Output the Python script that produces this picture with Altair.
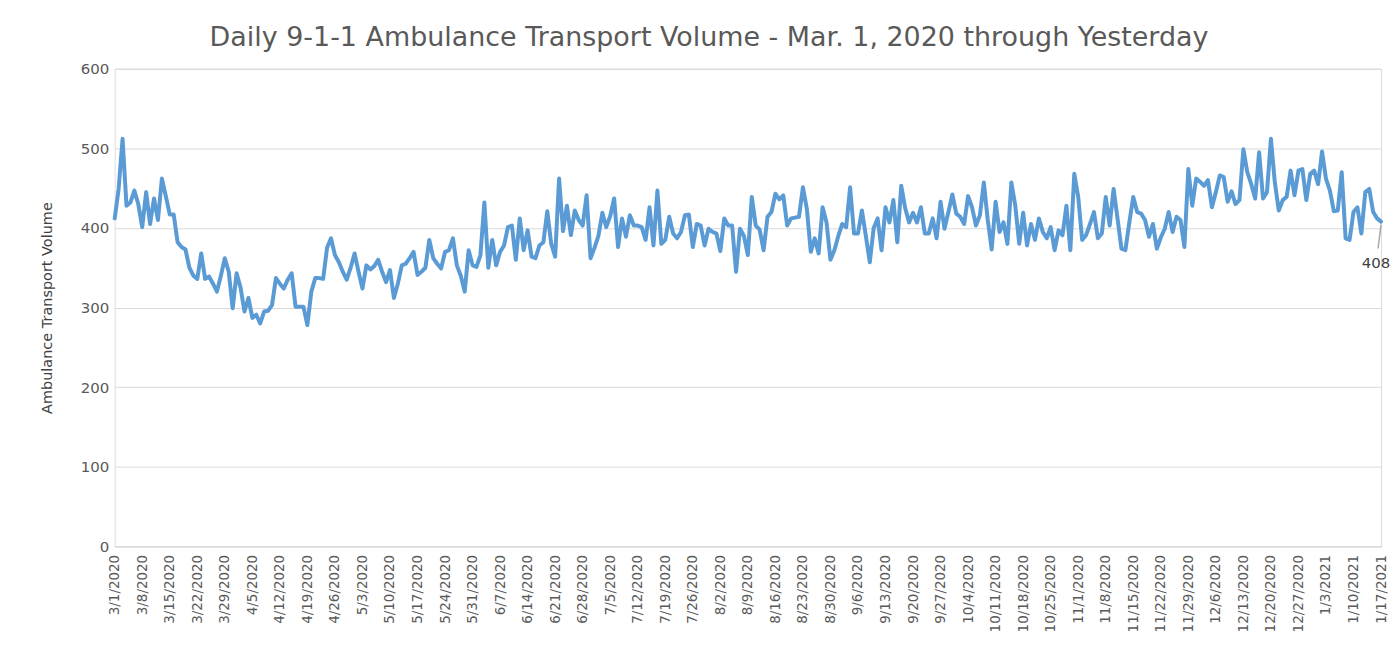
import altair as alt
import pandas as pd

# Daily 9-1-1 ambulance transports (3/1/2020 .. 1/17/2021)
mar_2020 = [412, 449, 512, 428, 432, 447, 430, 401, 445, 405, 437, 410, 462, 440, 417, 417,
            382, 376, 373, 350, 340, 336, 368, 336, 339, 330, 320, 340, 362, 345, 299]
apr_2020 = [343, 325, 295, 312, 287, 291, 280, 295, 296, 303, 337, 330, 324, 335, 343, 301,
            301, 301, 278, 320, 337, 337, 336, 375, 387, 366, 357, 345, 335, 350]
may_2020 = [368, 345, 324, 353, 348, 352, 360, 345, 332, 347, 312, 330, 353, 355, 362, 370,
            341, 345, 350, 385, 362, 355, 349, 370, 372, 387, 353, 340, 320, 372, 353]
jun_2020 = [351, 366, 432, 350, 385, 353, 370, 378, 401, 403, 360, 412, 372, 397, 364, 362,
            378, 382, 421, 380, 364, 462, 396, 428, 391, 422, 410, 403, 441, 362]
jul_2020 = [375, 390, 419, 401, 415, 437, 376, 412, 389, 416, 403, 403, 401, 385, 426, 378,
            447, 380, 385, 414, 393, 387, 395, 416, 417, 376, 405, 403, 378, 399, 395]
aug_2020 = [393, 371, 412, 403, 403, 345, 399, 390, 366, 439, 403, 398, 372, 414, 420, 443,
            436, 441, 403, 412, 413, 414, 451, 424, 370, 387, 368, 426, 407, 360, 372]
sep_2020 = [390, 405, 401, 451, 393, 393, 422, 390, 357, 400, 412, 372, 426, 407, 435, 382,
            453, 425, 407, 419, 407, 426, 393, 393, 412, 387, 433, 399, 420, 442]
oct_2020 = [418, 414, 405, 440, 426, 403, 416, 457, 410, 373, 433, 395, 407, 380, 457, 428,
            380, 419, 378, 405, 385, 412, 395, 387, 401, 372, 397, 391, 428, 372, 468]
nov_2020 = [439, 385, 391, 405, 420, 387, 393, 439, 403, 449, 412, 374, 372, 407, 439, 420,
            418, 410, 389, 405, 374, 388, 399, 420, 395, 414, 410, 376, 474, 428]
dec_2020 = [462, 458, 453, 460, 426, 445, 466, 464, 433, 446, 430, 435, 499, 470, 455, 437,
            495, 437, 445, 512, 457, 422, 435, 439, 472, 441, 472, 474, 435, 468, 472]
jan_2021 = [455, 496, 462, 447, 421, 422, 470, 387, 385, 420, 426, 393, 445, 449, 420, 412, 408]

tick_labels = ["3/1/2020", "3/8/2020", "3/15/2020", "3/22/2020", "3/29/2020", "4/5/2020",
               "4/12/2020", "4/19/2020", "4/26/2020", "5/3/2020", "5/10/2020", "5/17/2020",
               "5/24/2020", "5/31/2020", "6/7/2020", "6/14/2020", "6/21/2020", "6/28/2020",
               "7/5/2020", "7/12/2020", "7/19/2020", "7/26/2020", "8/2/2020", "8/9/2020",
               "8/16/2020", "8/23/2020", "8/30/2020", "9/6/2020", "9/13/2020", "9/20/2020",
               "9/27/2020", "10/4/2020", "10/11/2020", "10/18/2020", "10/25/2020", "11/1/2020",
               "11/8/2020", "11/15/2020", "11/22/2020", "11/29/2020", "12/6/2020", "12/13/2020",
               "12/20/2020", "12/27/2020", "1/3/2021", "1/10/2021", "1/17/2021"]
y_ticks = [0, 100, 200, 300, 400, 500, 600]

values = (mar_2020 + apr_2020 + may_2020 + jun_2020 + jul_2020 + aug_2020 + sep_2020
          + oct_2020 + nov_2020 + dec_2020 + jan_2021)
df = pd.DataFrame({"day": list(range(len(values))), "volume": values})
last = df.tail(1).copy()
last["label"] = last["volume"].astype(str)

label_array = "[" + ",".join("'%s'" % s for s in tick_labels) + "]"
label_expr = label_array + "[round(datum.value / 7)]"

FONT = "DejaVu Sans"
GREY = "#595959"

x_enc = alt.X("day:Q",
              scale=alt.Scale(domain=[0, len(values) - 1], nice=False, zero=False),
              axis=alt.Axis(values=[i * 7 for i in range(len(tick_labels))],
                            tickCount=100,
                            labelExpr=label_expr, labelAngle=270, labelAlign="right",
                            labelBaseline="middle", labelFontSize=13.5,
                            labelFont=FONT, labelColor=GREY, labelPadding=8,
                            labelOverlap=False, labelSeparation=0, labelBound=False,
                            labelFlush=False, ticks=False, tickSize=0, grid=False,
                            domain=True, domainColor="#D9D9D9", domainWidth=1, title=None))
y_enc = alt.Y("volume:Q",
              scale=alt.Scale(domain=[0, 600], nice=False),
              axis=alt.Axis(values=y_ticks, labelFontSize=15, labelFont=FONT,
                            labelColor=GREY, labelPadding=6, ticks=False, tickSize=0,
                            domain=False, grid=True, gridColor="#D9D9D9", gridWidth=1,
                            title="Ambulance Transport Volume", titleFont=FONT,
                            titleFontSize=14.5, titleFontWeight="normal",
                            titleColor="#404040", titlePadding=26))

line = alt.Chart(df).mark_line(color="#5B9BD5", strokeWidth=4, strokeJoin="round",
                               strokeCap="round").encode(x=x_enc, y=y_enc)

leader = alt.Chart(last).mark_rule(color="#A6A6A6", strokeWidth=1.5, yOffset=3,
                                   y2Offset=27, x2Offset=-3).encode(
    x="day:Q", x2="day:Q", y="volume:Q", y2="volume:Q")

text = alt.Chart(last).mark_text(font=FONT, fontSize=15, color="#404040", dx=-5,
                                 dy=42).encode(x="day:Q", y="volume:Q", text="label:N")

chart = alt.layer(line, leader, text).properties(
    width=1270, height=479,
    title=alt.TitleParams("Daily 9-1-1 Ambulance Transport Volume - Mar. 1, 2020 through Yesterday",
                          font=FONT, fontSize=27, fontWeight="normal", color=GREY,
                          anchor="middle", dx=-39, offset=10),
    autosize=alt.AutoSizeParams(type="none"),
    padding={"left": 107, "top": 60, "right": 10, "bottom": 95},
).configure_view(stroke=None).configure(background="white").configure_axisX(
    labelOverlap=False, labelSeparation=0)

chart.save("out.html", embed_options={"renderer": "svg", "actions": False})
